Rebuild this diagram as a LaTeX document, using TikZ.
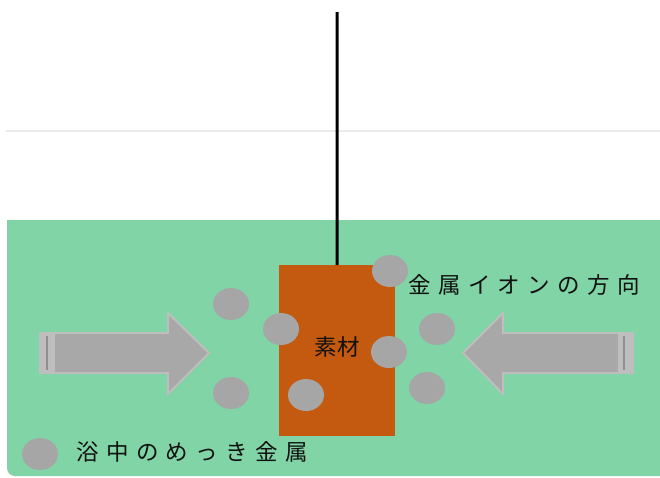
\documentclass[tikz,border=0pt]{standalone}
\usepackage{fontspec}
\newfontfamily\jp{Noto Sans CJK JP}
\newfontfamily\jpsp{Noto Sans CJK JP}[LetterSpace=33]
\usetikzlibrary{shapes.geometric}
\definecolor{bath}{HTML}{80D4A6}
\definecolor{metal}{HTML}{C45A10}
\definecolor{ion}{HTML}{A6A6A6}
\definecolor{arrfill}{HTML}{A8A8A8}
\definecolor{arredge}{HTML}{BEBEBE}
\definecolor{surface}{HTML}{EBEBEB}
\definecolor{txt}{HTML}{111111}
\tikzset{
  iondot/.style={ellipse, fill=ion, minimum width=36pt, minimum height=32pt, inner sep=0pt},
  bigarrow/.style={fill=arrfill, draw=arredge, line width=2pt, line join=miter},
  label jp/.style={font=\jpsp\fontsize{22.5}{26}\selectfont, text=txt, inner sep=0pt},
}
\begin{document}
\begin{tikzpicture}[x=1pt,y=-1pt]
\useasboundingbox (0,0) rectangle (660,477);
\fill[white] (0,0) rectangle (660,477);
% liquid surface line
\coordinate (sl) at (6,131);
\coordinate (sr) at (660,131);
\draw[surface, line width=2pt] (sl) -- (sr);
% bath
\fill[bath, rounded corners=8pt] (7,220) rectangle (690,476);
\fill[bath] (7,220) rectangle (40,250);
% hanging wire and substrate
\node[fill=metal, minimum width=116pt, minimum height=171pt, inner sep=0pt, anchor=north west] (box) at (279,265) {};
\coordinate (top) at (337,12);
\draw[black, line width=3pt] (top) -- (box.north);
\node[font=\jp\fontsize{22.5}{26}\selectfont, text=txt, inner sep=0pt] (sozai) at (337,347) {素材};
% ions
\node[iondot] (i1) at (390,271) {};
\node[iondot] (i2) at (231,304) {};
\node[iondot] (i3) at (281,329) {};
\node[iondot] (i4) at (389,352) {};
\node[iondot] (i5) at (437,329) {};
\node[iondot] (i6) at (231,393) {};
\node[iondot] (i7) at (306,395) {};
\node[iondot] (i8) at (427,388) {};
% left arrow
\draw[bigarrow] (40,333) -- (168,333) -- (168,313) -- (209,353) -- (168,394) -- (168,373) -- (40,373) -- cycle;
\fill[arredge] (41,334) rectangle (55,372);
\draw[arrfill!85!black, line width=1.5pt] (47,336) -- (47,370);
% right arrow
\draw[bigarrow] (633,333) -- (503,333) -- (503,313) -- (463,353) -- (503,394) -- (503,373) -- (633,373) -- cycle;
\fill[arredge] (618,334) rectangle (632,372);
\draw[arrfill!85!black, line width=1.5pt] (624,336) -- (624,370);
% labels
\node[label jp, anchor=west] (dir) at (408,285) {金属イオンの方向};
\node[iondot] (leg) at (40,454) {};
\node[label jp, anchor=west] (legt) at (76,452) {浴中のめっき金属};
\end{tikzpicture}
\end{document}
